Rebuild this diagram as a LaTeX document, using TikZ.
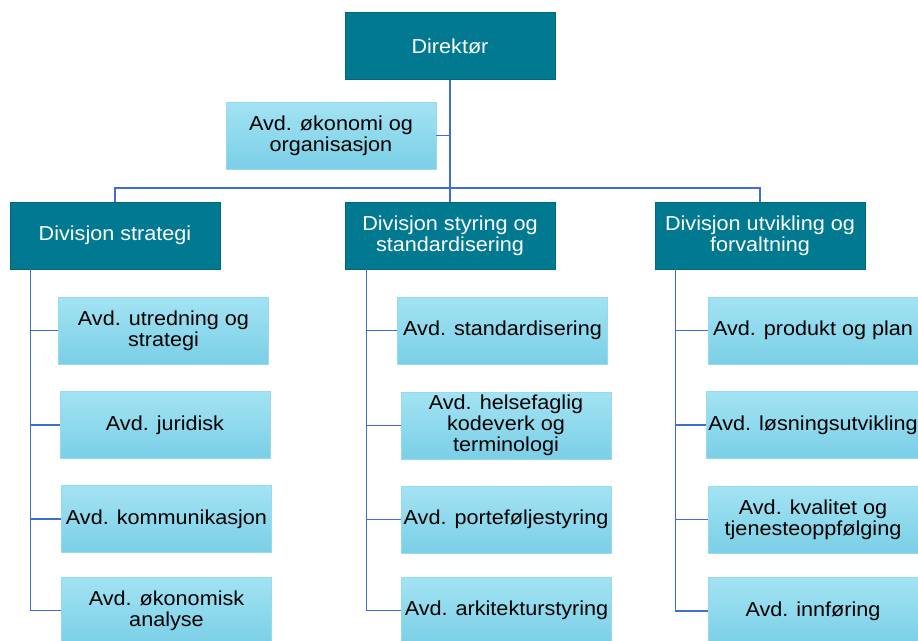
\documentclass[tikz,border=0pt]{standalone}
\usepackage{fontspec}
\setmainfont{Liberation Sans}[FakeStretch=1.07]
\definecolor{petrol}{RGB}{0,121,145}
\definecolor{petrolline}{RGB}{0,104,126}
\definecolor{avdtop}{RGB}{163,227,243}
\definecolor{avdbot}{RGB}{122,207,230}
\definecolor{avdline}{RGB}{150,218,238}
\definecolor{linje}{RGB}{62,108,218}

\begin{document}
\begin{tikzpicture}[x=0.02cm, y=-0.02cm,
    box/.style={rectangle, minimum width=4.2cm, minimum height=1.34cm,
      inner sep=1pt, align=center, font=\fontsize{11.5}{11.9}\selectfont},
    div/.style={box, fill=petrol, draw=petrolline, text=white},
    avd/.style={box, top color=avdtop, bottom color=avdbot, draw=avdline},
    ln/.style={draw=linje, line width=0.9pt}]

  \path[use as bounding box] (0,0) rectangle (918,640);
  \clip (0,0) rectangle (918,640);

  % Direktør
  \node[div] (dir) at (450,46) {Direktør};
  \node[avd] (oko) at (331,135.5) {Avd. økonomi og\\organisasjon};
  \coordinate (bar) at (450,188);

  % divisjoner
  \node[div] (ds) at (115,235.5) {Divisjon strategi};
  \node[div] (dm) at (450,235.5) {Divisjon styring og\\standardisering};
  \node[div] (du) at (760,235.5) {Divisjon utvikling og\\forvaltning};

  \draw[ln] (dir) -- (dm);
  \draw[ln] (oko.east) -- (oko.east -| dir.south);
  \draw[ln] (ds.north) |- (bar) -| (du.north);

  % Divisjon strategi
  \node[avd] (s1) at (163.5,330.5) {Avd. utredning og\\strategi};
  \node[avd] (s2) at (165,425) {Avd. juridisk};
  \node[avd] (s3) at (166.5,519) {Avd. kommunikasjon};
  \node[avd] (s4) at (166.5,610.5) {Avd. økonomisk\\analyse};
  \draw[ln] (ds.south west) ++(21,0) coordinate (sv) |- (s4.west);
  \foreach \n in {s1,s2,s3}
    \draw[ln] (sv |- \n.west) -- (\n.west);

  % Divisjon styring og standardisering
  \node[avd] (m1) at (502.5,330.5) {Avd. standardisering};
  \node[avd] (m2) at (506,425.5) {Avd. helsefaglig\\kodeverk og\\terminologi};
  \node[avd] (m3) at (506,519.5) {Avd. porteføljestyring};
  \node[avd] (m4) at (506.5,610.5) {Avd. arkitekturstyring};
  \draw[ln] (dm.south west) ++(22,0) coordinate (mv) |- (m4.west);
  \foreach \n in {m1,m2,m3}
    \draw[ln] (mv |- \n.west) -- (\n.west);

  % Divisjon utvikling og forvaltning
  \node[avd] (u1) at (813,330.5) {Avd. produkt og plan};
  \node[avd] (u2) at (813,425) {Avd. løsningsutvikling};
  \node[avd] (u3) at (813,519.5) {Avd. kvalitet og\\tjenesteoppfølging};
  \node[avd] (u4) at (813,611) {Avd. innføring};
  \draw[ln] (du.south west) ++(21,0) coordinate (uv) |- (u4.west);
  \foreach \n in {u1,u2,u3}
    \draw[ln] (uv |- \n.west) -- (\n.west);
\end{tikzpicture}
\end{document}
